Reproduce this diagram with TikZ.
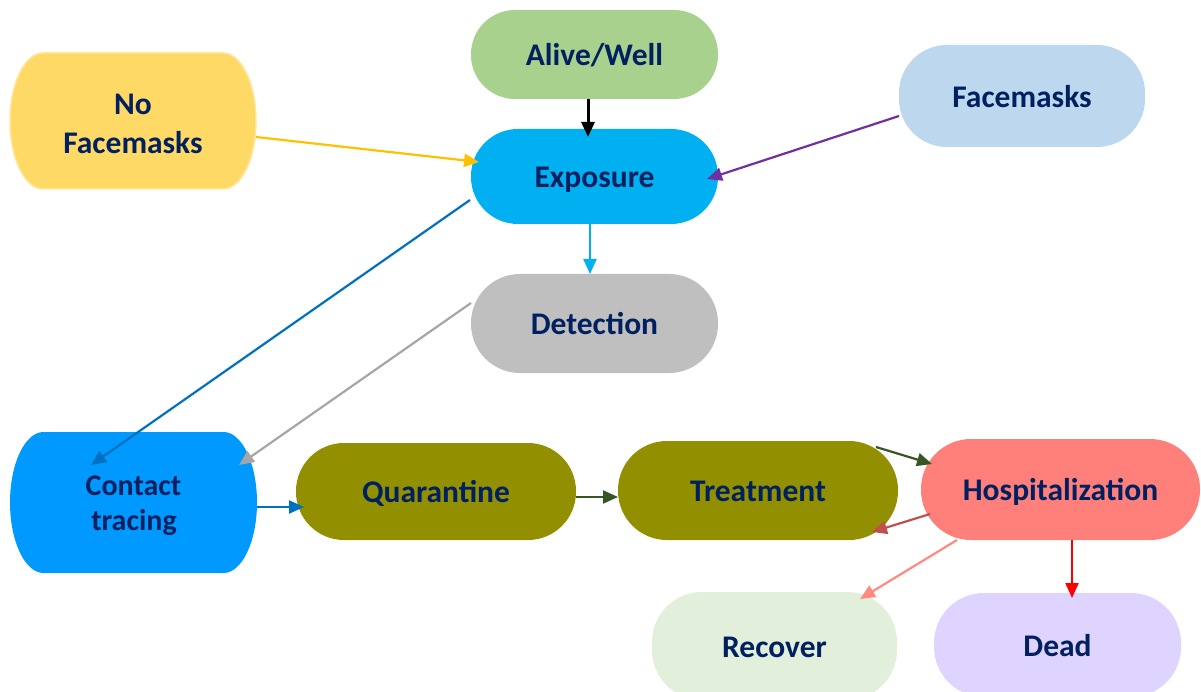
\documentclass[tikz,border=0pt]{standalone}
\usepackage{fontspec}
\setmainfont{Carlito}
\usetikzlibrary{arrows.meta,calc}
\definecolor{navy}{HTML}{002060}
\definecolor{cAlive}{HTML}{A9D18E}
\definecolor{cExp}{HTML}{00B0F0}
\definecolor{cNoFM}{HTML}{FFD966}
\definecolor{cNoFMb}{HTML}{FFE699}
\definecolor{cFM}{HTML}{BDD7EE}
\definecolor{cDet}{HTML}{BFBFBF}
\definecolor{cCT}{HTML}{0099FF}
\definecolor{cOlive}{HTML}{929000}
\definecolor{cHosp}{HTML}{FF7F7B}
\definecolor{cRec}{HTML}{E2EFDA}
\definecolor{cDead}{HTML}{DFD3FF}
\definecolor{aGold}{HTML}{FFC000}
\definecolor{aPurple}{HTML}{7030A0}
\definecolor{aBlue}{HTML}{0070C0}
\definecolor{aGray}{HTML}{A6A6A6}
\definecolor{aGreen}{HTML}{375623}
\definecolor{aBrick}{HTML}{C0504D}
\definecolor{aSalmon}{HTML}{FF8A80}
\begin{document}
\begin{tikzpicture}[x=1pt,y=-1pt,
  lbl/.style={font=\fontsize{31.5}{39}\selectfont\bfseries, text=navy, align=center, inner sep=0pt},
  line/.style={lbl, anchor=base},
  pill/.style n args={4}{lbl, fill=#1, minimum width=#2, minimum height=#3, rounded corners=#4,
     text height=22.4pt, text depth=0pt},
  arr/.style={-{Triangle[length=15pt,width=13pt]}, line width=2.2pt}
]
\useasboundingbox (0,0) rectangle (1201,692);

% elliptic-ended shapes
\path[fill=cNoFM, draw=cNoFMb, line width=1.5pt]
  (43,53) -- (223,53) arc[start angle=-90, end angle=90, x radius=33, y radius=68]
  -- (43,189) arc[start angle=90, end angle=270, x radius=33, y radius=68] -- cycle;
\path[fill=cCT]
  (43.5,432) -- (223.5,432) arc[start angle=-90, end angle=90, x radius=33.5, y radius=70.5]
  -- (43.5,573) arc[start angle=90, end angle=270, x radius=33.5, y radius=70.5] -- cycle;

\node[minimum width=246pt, minimum height=136pt] (nofm) at (133,121) {};
\node[minimum width=247pt, minimum height=141pt] (ct) at (133.5,502.5) {};
\node[line] (nofmA) at (133,114.3) {No};
\node[line] (nofmB) at (133,153.3) {Facemasks};
\node[line, font=\fontsize{30}{35}\selectfont\bfseries] (ctA) at (133.5,495) {Contact};
\node[line, font=\fontsize{30}{35}\selectfont\bfseries] (ctB) at (134,530) {tracing};

\node[pill={cAlive}{247pt}{89pt}{44pt}] (alive) at (594.5,54.5) {Alive/Well};
\node[pill={cExp}{247pt}{95pt}{47pt}] (exp) at (594.5,176.5) {Exposure};
\node[pill={cDet}{247pt}{99pt}{49pt}] (det) at (594.5,323.5) {Detection};
\node[pill={cFM}{246pt}{102pt}{48pt}] (fm) at (1022,96) {Facemasks};
\node[pill={cOlive}{280pt}{97pt}{48pt}] (quar) at (436,491.5) {Quarantine};
\node[pill={cOlive}{280pt}{99pt}{49pt}] (treat) at (758,490.5) {Treatment};
\node[pill={cHosp}{279pt}{101pt}{50pt}] (hosp) at (1060.5,489.5) {Hospitalization};
\node[pill={cRec}{245pt}{108pt}{50pt}] (recov) at (774.5,646) {Recover};
\node[pill={cDead}{247pt}{104pt}{50pt}] (dead) at (1057.5,645) {Dead};

% connectors
\draw[arr, black, line width=3pt] ($(alive.center)+(-6.5,44.5)$) -- ($(exp.center)+(-6.5,-39.5)$);
\draw[arr, aGold] ($(nofm.center)+(123,16)$) -- ($(exp.center)+(-115.5,-14.5)$);
\draw[arr, aPurple] ($(fm.center)+(-123,20)$) -- ($(exp.center)+(112.5,2.5)$);
\draw[arr, cExp] ($(exp.center)+(-4.5,47.5)$) -- ($(det.center)+(-4.5,-49.5)$);
\draw[arr, aBlue] ($(exp.center)+(-124.5,23.5)$) -- ($(ct.center)+(-42.5,-37.5)$);
\draw[arr, aGray] ($(det.center)+(-123.5,-20.5)$) -- ($(ct.center)+(105.5,-37.5)$);
\draw[arr, aBlue] ($(ct.center)+(123.5,4.5)$) -- ($(quar.center)+(-132,15.5)$);
\draw[arr, aGreen] ($(quar.center)+(140,5.5)$) -- ($(treat.center)+(-140,6.5)$);
\draw[arr, aGreen] ($(treat.center)+(118,-43.5)$) -- ($(hosp.center)+(-128.5,-25.5)$);
\draw[arr, aBrick] ($(hosp.center)+(-130.5,24.5)$) -- ($(treat.center)+(114,41.5)$);
\draw[arr, aSalmon] ($(hosp.center)+(-103.5,50.5)$) -- ($(recov.center)+(85.5,-47)$);
\draw[arr, red] ($(hosp.center)+(11.5,50.5)$) -- ($(dead.center)+(14.5,-47)$);
\end{tikzpicture}
\end{document}
